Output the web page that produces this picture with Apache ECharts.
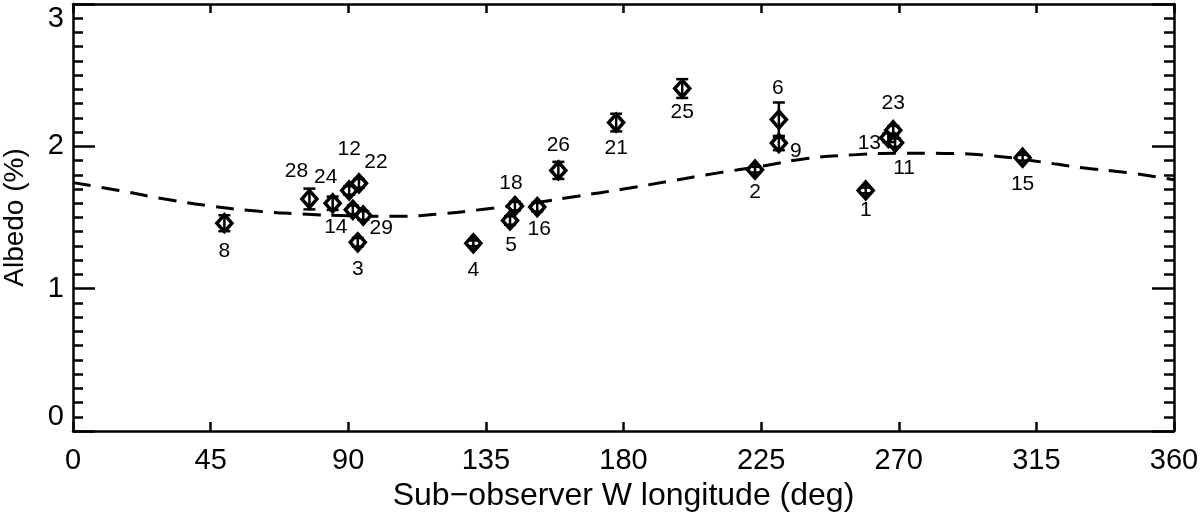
<!DOCTYPE html>
<html>
<head>
<meta charset="utf-8">
<script src="https://cdn.jsdelivr.net/npm/echarts@6/dist/echarts.min.js"></script>
<style>
  html, body { margin: 0; padding: 0; background: #fff; }
  #chart { width: 1200px; height: 513px; }
</style>
</head>
<body>
<div id="chart"></div>
<script>
// observation ids, longitude (deg), albedo (%), 1-sigma error (%)
const pointIds = ['8', '28', '24', '12', '22', '14', '29', '3', '4', '5', '18', '16', '26', '21', '25', '2', '6', '9', '1', '13', '23', '11', '15'];
const longitudes = [49.5, 77.3, 84.9, 90.3, 93.5, 91.5, 94.9, 93.1, 130.9, 142.9, 144.5, 151.8, 158.7, 177.6, 199.2, 223.0, 230.8, 230.8, 259.2, 266.6, 268.2, 268.8, 310.5];
const albedos = [1.46, 1.63, 1.60, 1.69, 1.74, 1.554, 1.514, 1.326, 1.319, 1.479, 1.58, 1.573, 1.831, 2.167, 2.406, 1.836, 2.188, 2.023, 1.69, 2.06, 2.113, 2.026, 1.92];
const errors = [0.056, 0.073, 0.047, 0.03, 0.03, 0.03, 0.03, 0.03, 0.02, 0.03, 0.03, 0.03, 0.06, 0.062, 0.066, 0.02, 0.12, 0.05, 0.02, 0.03, 0.03, 0.03, 0.02];

// dashed model curve
const curveLon = [0, 15, 30, 45, 60, 75, 90, 105, 120, 135, 150, 165, 180, 195, 210, 225, 240, 255, 270, 285, 300, 315, 330, 345, 360];
const curveAlb = [1.745, 1.69, 1.63, 1.58, 1.545, 1.525, 1.512, 1.508, 1.525, 1.56, 1.60, 1.65, 1.70, 1.755, 1.81, 1.86, 1.915, 1.94, 1.952, 1.95, 1.935, 1.895, 1.85, 1.815, 1.765];

// where each id label sits relative to its point (px)
const labelOffsets = [[0, 28], [-13, -28], [-7, -26], [0, -41], [17, -21], [-17, 17], [18, 13], [0, 27], [0, 27], [1, 25], [-4, -23], [2, 22], [0, -25], [0, 26], [0, 24], [0, 23], [-1, -31], [17, 8], [0, 20], [-19, 5], [0, -27], [9, 26], [0, 26]];

const font = 'Liberation Sans, Arial, Helvetica, sans-serif';
const chart = echarts.init(document.getElementById('chart'));

const pointData = longitudes.map((lon, i) => ({
  value: [lon, albedos[i]],
  name: pointIds[i],
  label: { offset: labelOffsets[i] }
}));
const errData = longitudes.map((lon, i) => [lon, albedos[i], errors[i]]);
const curveData = curveLon.map((lon, i) => [lon, curveAlb[i]]);

const axisLine = { show: true, onZero: false, lineStyle: { color: '#000', width: 2.5 } };
const xTick = { inside: true, length: 9, lineStyle: { color: '#000', width: 2.5 } };
const yTick = { inside: true, length: 22, lineStyle: { color: '#000', width: 2.5 } };
const yMinor = { show: true, splitNumber: 10, length: 10, lineStyle: { color: '#000', width: 2.5 } };

chart.setOption({
  animation: false,
  backgroundColor: '#fff',
  grid: { left: 73, right: 26, top: 4, bottom: 82, containLabel: false, outerBoundsMode: 'none' },
  xAxis: [{
    type: 'value', min: 0, max: 360, interval: 45, position: 'bottom',
    name: 'Sub\u2212observer W longitude (deg)', nameLocation: 'middle', nameGap: 42,
    nameTextStyle: { fontFamily: font, fontSize: 32, color: '#000' },
    axisLine: axisLine, axisTick: xTick,
    axisLabel: { fontFamily: font, fontSize: 29, color: '#000', margin: 15 },
    splitLine: { show: false }
  }, {
    type: 'value', min: 0, max: 360, interval: 45, position: 'top',
    axisLine: axisLine, axisTick: xTick,
    axisLabel: { show: false },
    splitLine: { show: false }
  }],
  yAxis: [{
    type: 'value', min: 0, max: 3, interval: 1, position: 'left',
    name: 'Albedo (%)', nameLocation: 'middle', nameGap: 44,
    nameTextStyle: { fontFamily: font, fontSize: 28, color: '#000' },
    axisLine: axisLine, axisTick: yTick, minorTick: yMinor,
    axisLabel: { fontFamily: font, fontSize: 29, color: '#000', margin: 9,
      verticalAlignMinLabel: 'bottom', verticalAlignMaxLabel: 'top' },
    splitLine: { show: false }
  }, {
    type: 'value', min: 0, max: 3, interval: 1, position: 'right',
    axisLine: axisLine, axisTick: yTick, minorTick: yMinor,
    axisLabel: { show: false },
    splitLine: { show: false }
  }],
  series: [{
    type: 'line',
    data: curveData,
    smooth: true,
    symbol: 'none',
    lineStyle: { color: '#000', width: 3, type: [18, 11] },
    z: 1
  }, {
    type: 'scatter',
    data: pointData,
    symbol: 'diamond',
    symbolSize: [15, 17],
    itemStyle: { color: '#fff', borderColor: '#000', borderWidth: 3.5, opacity: 1 },
    label: {
      show: true, position: 'inside', formatter: p => p.name,
      fontFamily: font, fontSize: 21, color: '#000'
    },
    z: 3
  }, {
    type: 'custom',
    data: errData,
    z: 4,
    renderItem: (params, api) => {
      const c = api.coord([api.value(0), api.value(1)]);
      const hi = api.coord([api.value(0), api.value(1) + api.value(2)]);
      const lo = api.coord([api.value(0), api.value(1) - api.value(2)]);
      const style = { stroke: '#000', lineWidth: 2.5 };
      const top = Math.min(hi[1], c[1] - 7);
      const bot = Math.max(lo[1], c[1] + 7);
      return {
        type: 'group',
        children: [
          { type: 'line', shape: { x1: c[0], y1: top, x2: c[0], y2: bot }, style },
          { type: 'line', shape: { x1: c[0] - 6, y1: hi[1], x2: c[0] + 6, y2: hi[1] }, style },
          { type: 'line', shape: { x1: c[0] - 6, y1: lo[1], x2: c[0] + 6, y2: lo[1] }, style }
        ]
      };
    }
  }]
});
</script>
</body>
</html>
